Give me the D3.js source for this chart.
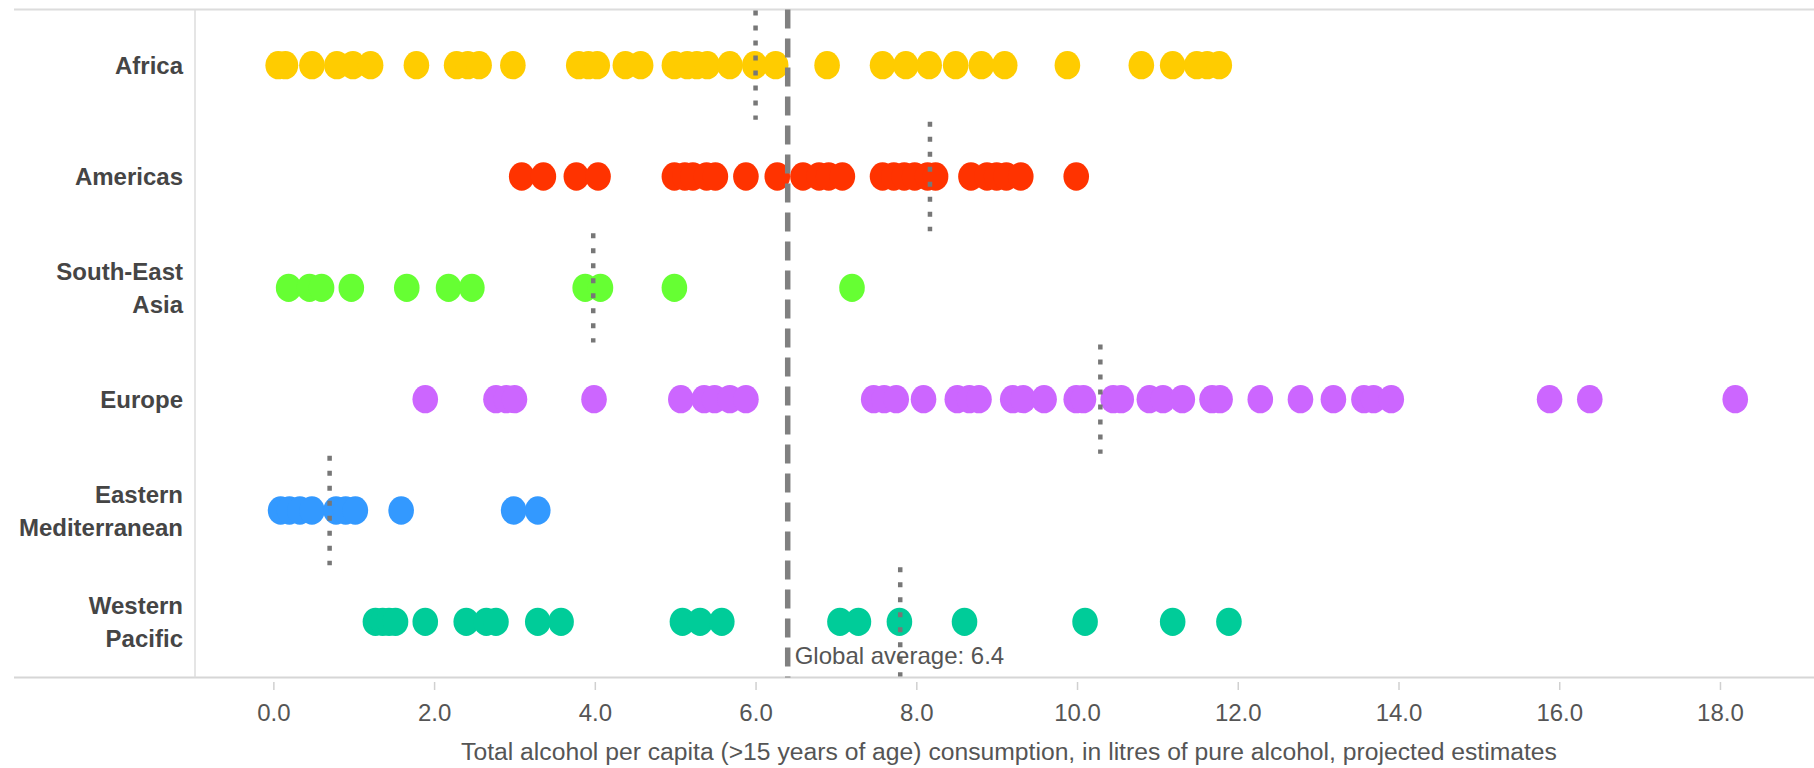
<!DOCTYPE html>
<html>
<head>
<meta charset="utf-8">
<script src="https://cdn.jsdelivr.net/npm/d3@7"></script>
<style>
  html, body { margin: 0; padding: 0; background: #fff; }
  svg { display: block; }
</style>
</head>
<body>
<svg id="chart" width="1814" height="768"></svg>
<script>
// ---------- data ----------
const regions = ["Africa", "Americas", "South-East Asia", "Europe", "Eastern Mediterranean", "Western Pacific"];
const regionLabels = [["Africa"], ["Americas"], ["South-East", "Asia"], ["Europe"], ["Eastern", "Mediterranean"], ["Western", "Pacific"]];
const regionColors = ["#FFCC00", "#FF3300", "#66FF33", "#CC66FF", "#3399FF", "#00CC99"];

const africa = [0.06, 0.15, 0.48, 0.79, 0.99, 1.21, 1.78, 2.28, 2.42, 2.56, 2.98, 3.80, 3.92, 4.03, 4.38, 4.57, 4.99, 5.15, 5.27, 5.40, 5.68, 5.99, 6.25, 6.89, 7.58, 7.87, 8.16, 8.49, 8.81, 9.10, 9.88, 10.80, 11.19, 11.49, 11.62, 11.77];
const americas = [3.09, 3.36, 3.77, 4.04, 4.99, 5.12, 5.22, 5.39, 5.50, 5.88, 6.27, 6.59, 6.79, 6.91, 7.08, 7.58, 7.72, 7.85, 7.98, 8.14, 8.24, 8.68, 8.88, 9.00, 9.12, 9.30, 9.99];
const southEastAsia = [0.19, 0.45, 0.60, 0.97, 1.66, 2.18, 2.47, 3.88, 4.07, 4.99, 7.20];
const europe = [1.89, 2.77, 2.90, 3.00, 3.99, 5.07, 5.36, 5.49, 5.68, 5.88, 7.47, 7.60, 7.75, 8.09, 8.51, 8.66, 8.78, 9.20, 9.33, 9.59, 9.99, 10.08, 10.45, 10.55, 10.90, 11.07, 11.31, 11.68, 11.78, 12.28, 12.78, 13.19, 13.57, 13.69, 13.91, 15.88, 16.38, 18.19];
const easternMediterranean = [0.09, 0.20, 0.33, 0.48, 0.78, 0.90, 1.02, 1.59, 2.99, 3.29];
const westernPacific = [1.27, 1.36, 1.44, 1.52, 1.89, 2.40, 2.65, 2.77, 3.29, 3.58, 5.09, 5.31, 5.58, 7.05, 7.28, 7.79, 8.60, 10.10, 11.19, 11.89];

const regionValues = [africa, americas, southEastAsia, europe, easternMediterranean, westernPacific];
const regionAverages = [6.0, 8.17, 3.98, 10.29, 0.70, 7.8];
const globalAverage = 6.4;
const xTicks = [0, 2, 4, 6, 8, 10, 12, 14, 16, 18];
const xTitle = "Total alcohol per capita (>15 years of age) consumption, in litres of pure alcohol, projected estimates";

// ---------- layout ----------
const svg = d3.select("#chart");
const plotLeft = 195, plotRight = 1814, plotTop = 9.5, plotBottom = 677.5;

const x = d3.scaleLinear().domain([-0.975, 19.17]).range([plotLeft, plotRight]);
const y = d3.scaleBand().domain(regions).range([plotTop, plotBottom]);
const bw = y.bandwidth();
const color = d3.scaleOrdinal().domain(regions).range(regionColors);

const fontFamily = "'Liberation Sans', Arial, sans-serif";

// frame lines
svg.append("line").attr("x1", 14).attr("x2", plotRight).attr("y1", plotTop).attr("y2", plotTop)
  .attr("stroke", "#dcdcdc").attr("stroke-width", 2);
svg.append("line").attr("x1", 14).attr("x2", plotRight).attr("y1", plotBottom).attr("y2", plotBottom)
  .attr("stroke", "#d6d6d6").attr("stroke-width", 2);
svg.append("line").attr("x1", plotLeft).attr("x2", plotLeft).attr("y1", plotTop).attr("y2", plotBottom)
  .attr("stroke", "#dcdcdc").attr("stroke-width", 1.5);

// x axis
const xAxis = d3.axisBottom(x).tickValues(xTicks).tickFormat(d3.format(".1f")).tickSize(0);
const gx = svg.append("g").attr("transform", `translate(0,${plotBottom})`).call(xAxis);
gx.select(".domain").remove();
gx.selectAll(".tick line").attr("y1", 4.5).attr("y2", 12.5).attr("stroke", "#d0d0d0").attr("stroke-width", 1.5);
gx.selectAll(".tick text").attr("y", 43).attr("dy", 0)
  .attr("font-family", fontFamily).attr("font-size", 24).attr("fill", "#555");

svg.append("text").attr("x", 1009).attr("y", 760).attr("text-anchor", "middle")
  .attr("font-family", fontFamily).attr("font-size", 24.7).attr("fill", "#555").text(xTitle);

// region labels
regions.forEach((r, i) => {
  const cy = y(r) + bw / 2;
  const lines = regionLabels[i];
  const t = svg.append("text").attr("text-anchor", "end")
    .attr("font-family", fontFamily).attr("font-size", 24).attr("font-weight", "bold").attr("fill", "#454545");
  if (lines.length === 1) {
    t.append("tspan").attr("x", 183).attr("y", cy + 8.5).text(lines[0]);
  } else {
    t.append("tspan").attr("x", 183).attr("y", cy - 7.5).text(lines[0]);
    t.append("tspan").attr("x", 183).attr("y", cy + 25.5).text(lines[1]);
  }
});

// dots
const dots = [];
regions.forEach((r, i) => regionValues[i].forEach(v => dots.push({ region: r, value: v })));
svg.append("g").selectAll("ellipse").data(dots).join("ellipse")
  .attr("cx", d => x(d.value))
  .attr("cy", d => y(d.region) + bw / 2)
  .attr("rx", 12.8).attr("ry", 14.2)
  .attr("fill", d => color(d.region));

// region average lines (dotted)
svg.append("g").selectAll("line").data(regions).join("line")
  .attr("x1", (r, i) => x(regionAverages[i])).attr("x2", (r, i) => x(regionAverages[i]))
  .attr("y1", r => y(r) + 1).attr("y2", r => y(r) + bw - 1)
  .attr("stroke", "#777").attr("stroke-width", 4.5).attr("stroke-dasharray", "5,10");

// global average (dashed)
svg.append("line")
  .attr("x1", x(globalAverage)).attr("x2", x(globalAverage))
  .attr("y1", plotTop).attr("y2", plotBottom)
  .attr("stroke", "#808080").attr("stroke-width", 5.5).attr("stroke-dasharray", "19,10");

svg.append("text").attr("x", x(globalAverage) + 7).attr("y", 664)
  .attr("font-family", fontFamily).attr("font-size", 24).attr("fill", "#555")
  .text("Global average: " + globalAverage.toFixed(1));
</script>
</body>
</html>
